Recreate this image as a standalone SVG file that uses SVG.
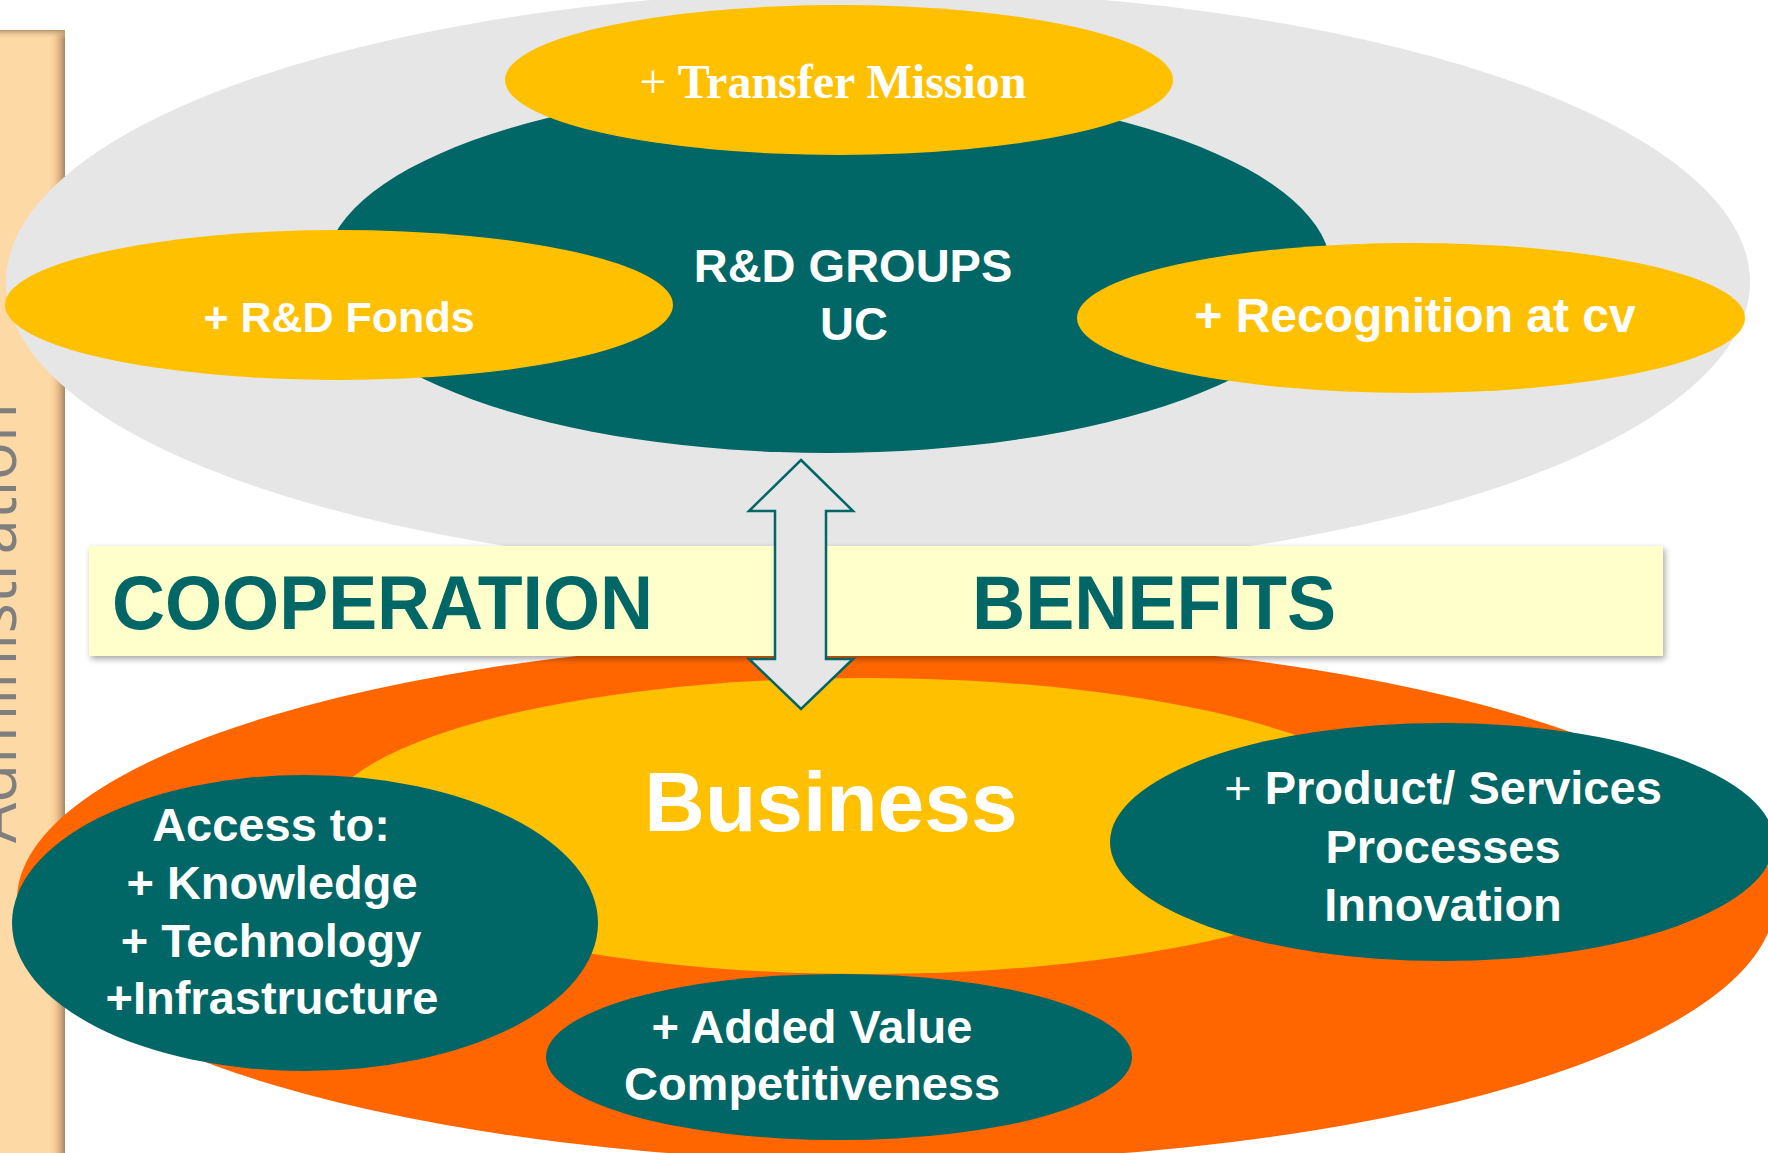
<svg xmlns="http://www.w3.org/2000/svg" width="1768" height="1153" viewBox="0 0 1768 1153">
<defs>
<style>
.teal{fill:#006666}
.yel{fill:#FFC000}
.wt{fill:#FFFFFF;font-family:"Liberation Sans",Arial,sans-serif;font-weight:bold;text-anchor:middle}
.big{fill:#006666;font-family:"Liberation Sans",Arial,sans-serif;font-weight:bold;font-size:76px}
</style>
<linearGradient id="barG" x1="0" y1="0" x2="1" y2="0">
<stop offset="0" stop-color="#FDD9A6"/>
<stop offset="0.78" stop-color="#FDD9A6"/>
<stop offset="0.86" stop-color="#F5CC98"/>
<stop offset="0.93" stop-color="#D7AD7E"/>
<stop offset="1" stop-color="#A88662"/>
</linearGradient>
<linearGradient id="barTop" x1="0" y1="0" x2="0" y2="1">
<stop offset="0" stop-color="#B8966E"/>
<stop offset="1" stop-color="#FDD9A6" stop-opacity="0"/>
</linearGradient>
<filter id="sh" x="-5%" y="-30%" width="110%" height="160%">
<feDropShadow dx="2" dy="3" stdDeviation="3" flood-color="#000000" flood-opacity="0.35"/>
</filter>
</defs>

<rect x="0" y="0" width="1768" height="1153" fill="#FFFFFF"/>

<g id="administration">
<rect x="-6" y="30" width="71" height="1130" fill="url(#barG)"/>
<rect x="-6" y="30" width="71" height="9" fill="url(#barTop)"/>
<text transform="translate(16,843) rotate(-90)" font-family="'Open Sans','Liberation Sans',sans-serif" font-weight="normal" font-size="64" fill="#7F7F7F" textLength="440" lengthAdjust="spacingAndGlyphs">Administration</text>
</g>

<g id="university">
<ellipse cx="878" cy="282" rx="872" ry="292" fill="#E6E6E6"/>
</g>

<g id="rd-groups">
<ellipse class="teal" cx="828" cy="270" rx="503" ry="183"/>
<text class="wt" font-size="47" x="853" y="282">R&amp;D GROUPS</text>
<text class="wt" font-size="47" x="854" y="340">UC</text>
</g>

<g id="transfer-mission">
<ellipse class="yel" cx="839" cy="80" rx="334" ry="75"/>
<text x="833" y="98" fill="#FFFFFF" font-family="'Liberation Serif','Times New Roman',serif" font-weight="bold" font-size="48" text-anchor="middle"><tspan font-weight="normal">+</tspan> Transfer Mission</text>
</g>

<g id="rd-fonds">
<ellipse class="yel" cx="339" cy="305" rx="334" ry="75"/>
<text class="wt" font-size="43" x="339" y="332">+ R&amp;D Fonds</text>
</g>

<g id="recognition">
<ellipse class="yel" cx="1411" cy="318" rx="334" ry="75"/>
<text class="wt" font-size="48" x="1415" y="332">+ Recognition at cv</text>
</g>

<g id="business-area">
<ellipse cx="896" cy="900" rx="879" ry="262" fill="#FF6600"/>
</g>

<g id="business">
<ellipse class="yel" cx="866" cy="826" rx="544" ry="148"/>
<text class="wt" font-size="84" x="831" y="831">Business</text>
</g>

<g id="access">
<ellipse class="teal" cx="305" cy="923" rx="293" ry="148"/>
<text class="wt" font-size="47" x="271" y="841">Access to:</text>
<text class="wt" font-size="47" x="272" y="899">+ Knowledge</text>
<text class="wt" font-size="47" x="271" y="957">+ Technology</text>
<text class="wt" font-size="47" x="272" y="1014">+Infrastructure</text>
</g>

<g id="added-value">
<ellipse class="teal" cx="839" cy="1057" rx="293" ry="83"/>
<text class="wt" font-size="47" x="812" y="1043">+ Added Value</text>
<text class="wt" font-size="47" x="812" y="1100">Competitiveness</text>
</g>

<g id="product">
<ellipse class="teal" cx="1442" cy="842" rx="332" ry="119"/>
<text class="wt" font-size="47" x="1443" y="804"><tspan font-weight="normal">+</tspan> Product/ Services</text>
<text class="wt" font-size="47" x="1443" y="863">Processes</text>
<text class="wt" font-size="47" x="1443" y="921">Innovation</text>
</g>

<g id="cooperation-benefits">
<rect x="89" y="546" width="1574" height="110" fill="#FFFFCC" filter="url(#sh)"/>
<text class="big" x="112" y="629" textLength="541" lengthAdjust="spacingAndGlyphs">COOPERATION</text>
<text class="big" x="972" y="629" textLength="364" lengthAdjust="spacingAndGlyphs">BENEFITS</text>
</g>

<g id="connectors">
<polygon points="801,460 853,511 826,511 826,659 853,659 801,709 749,659 775,659 775,511 749,511" fill="#E6E6E6" stroke="#006666" stroke-width="2.5" stroke-linejoin="miter"/>
</g>
</svg>
